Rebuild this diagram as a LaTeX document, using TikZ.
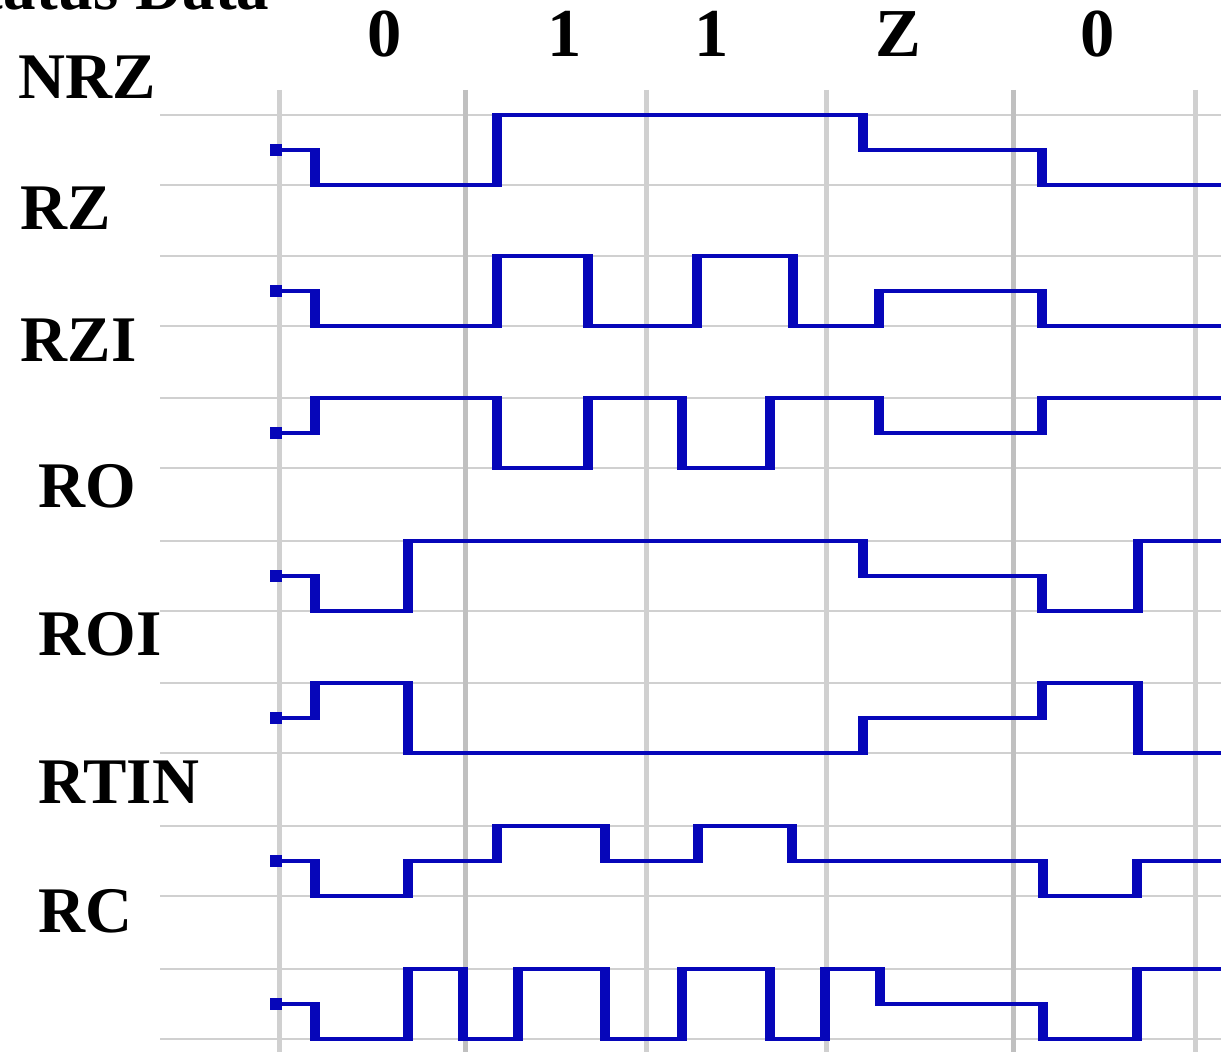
\documentclass[tikz,border=0pt]{standalone}
\usepackage{fontspec}
\setmainfont{Liberation Serif}
\usepackage{tikz}
\usetikzlibrary{calc}
\definecolor{wireblue}{RGB}{6,6,185}
\definecolor{gridgray}{RGB}{208,208,208}
\definecolor{griddark}{RGB}{192,192,192}

\begin{document}
\begin{tikzpicture}[x=0.01cm, y=-0.01cm,
  lbl/.style={inner sep=0, font=\bfseries\fontsize{18.5}{22}\selectfont},
  bit/.style={inner sep=0, anchor=base, font=\bfseries\fontsize{19.5}{23}\selectfont},
  hgrid/.style={gridgray, line width=0.02cm},
  vgrid/.style={gridgray, line width=0.05cm},
  wave/.style={transform canvas={xscale=2.5}, xscale=0.4, wireblue, line width=0.04cm}]
\useasboundingbox (0,0) rectangle (1221,1052);
% grid %
\foreach \t in {115,256,398,541,683,826,969} {
  \draw[hgrid] (160,\t) -- (1221,\t);
  \draw[hgrid] (160,\t+70) -- (1221,\t+70);
}
\foreach \x in {279,646,826,1195} \draw[vgrid] (\x,90) -- (\x,1052);
\foreach \x in {465,1013} \draw[vgrid, griddark] (\x,90) -- (\x,1052);
% labels %
\node[lbl, anchor=base east] (title) at (270,10) {Status Data};
\node[lbl, anchor=base west] (nrz) at (18,99) {NRZ};
\node[lbl, anchor=base west] (rz) at (20,230) {RZ};
\node[lbl, anchor=base west] (rzi) at (20,362) {RZI};
\node[lbl, anchor=base west] (ro) at (38,508) {RO};
\node[lbl, anchor=base west] (roi) at (38,655) {ROI};
\node[lbl, anchor=base west] (rtin) at (38,803) {RTIN};
\node[lbl, anchor=base west] (rc) at (38,932) {RC};
\node[bit] (b1) at (385,57) {0};
\node[bit] (b2) at (565,57) {1};
\node[bit] (b3) at (712,57) {1};
\node[bit] (b4) at (898,57) {Z};
\node[bit] (b5) at (1098,57) {0};
% waves %
\begin{scope}[wave, shift={(0,115)}] % NRZ
  \fill (270,29) rectangle (282,41);
  \draw (275,35) -| (315,70) -| (497,0) -| (863,35) -| (1042,70) -- (1221,70);
\end{scope}
\begin{scope}[wave, shift={(0,256)}] % RZ
  \fill (270,29) rectangle (282,41);
  \draw (275,35) -| (315,70) -| (497,0) -| (588,70) -| (697,0) -| (793,70) -| (879,35) -| (1042,70) -- (1221,70);
\end{scope}
\begin{scope}[wave, shift={(0,398)}] % RZI
  \fill (270,29) rectangle (282,41);
  \draw (275,35) -| (315,0) -| (497,70) -| (588,0) -| (682,70) -| (770,0) -| (879,35) -| (1042,0) -- (1221,0);
\end{scope}
\begin{scope}[wave, shift={(0,541)}] % RO
  \fill (270,29) rectangle (282,41);
  \draw (275,35) -| (315,70) -| (408,0) -| (863,35) -| (1042,70) -| (1138,0) -- (1221,0);
\end{scope}
\begin{scope}[wave, shift={(0,683)}] % ROI
  \fill (270,29) rectangle (282,41);
  \draw (275,35) -| (315,0) -| (408,70) -| (863,35) -| (1042,0) -| (1138,70) -- (1221,70);
\end{scope}
\begin{scope}[wave, shift={(0,826)}] % RTIN
  \fill (270,29) rectangle (282,41);
  \draw (275,35) -| (315,70) -| (408,35) -| (497,0) -| (605,35) -| (698,0) -| (792,35) -| (1043,70) -| (1137,35) -- (1221,35);
\end{scope}
\begin{scope}[wave, shift={(0,969)}] % RC
  \fill (270,29) rectangle (282,41);
  \draw (275,35) -| (315,70) -| (408,0) -| (463,70) -| (518,0) -| (605,70) -| (682,0) -| (770,70) -| (825,0) -| (880,35) -| (1043,70) -| (1137,0) -- (1221,0);
\end{scope}
\end{tikzpicture}
\end{document}
